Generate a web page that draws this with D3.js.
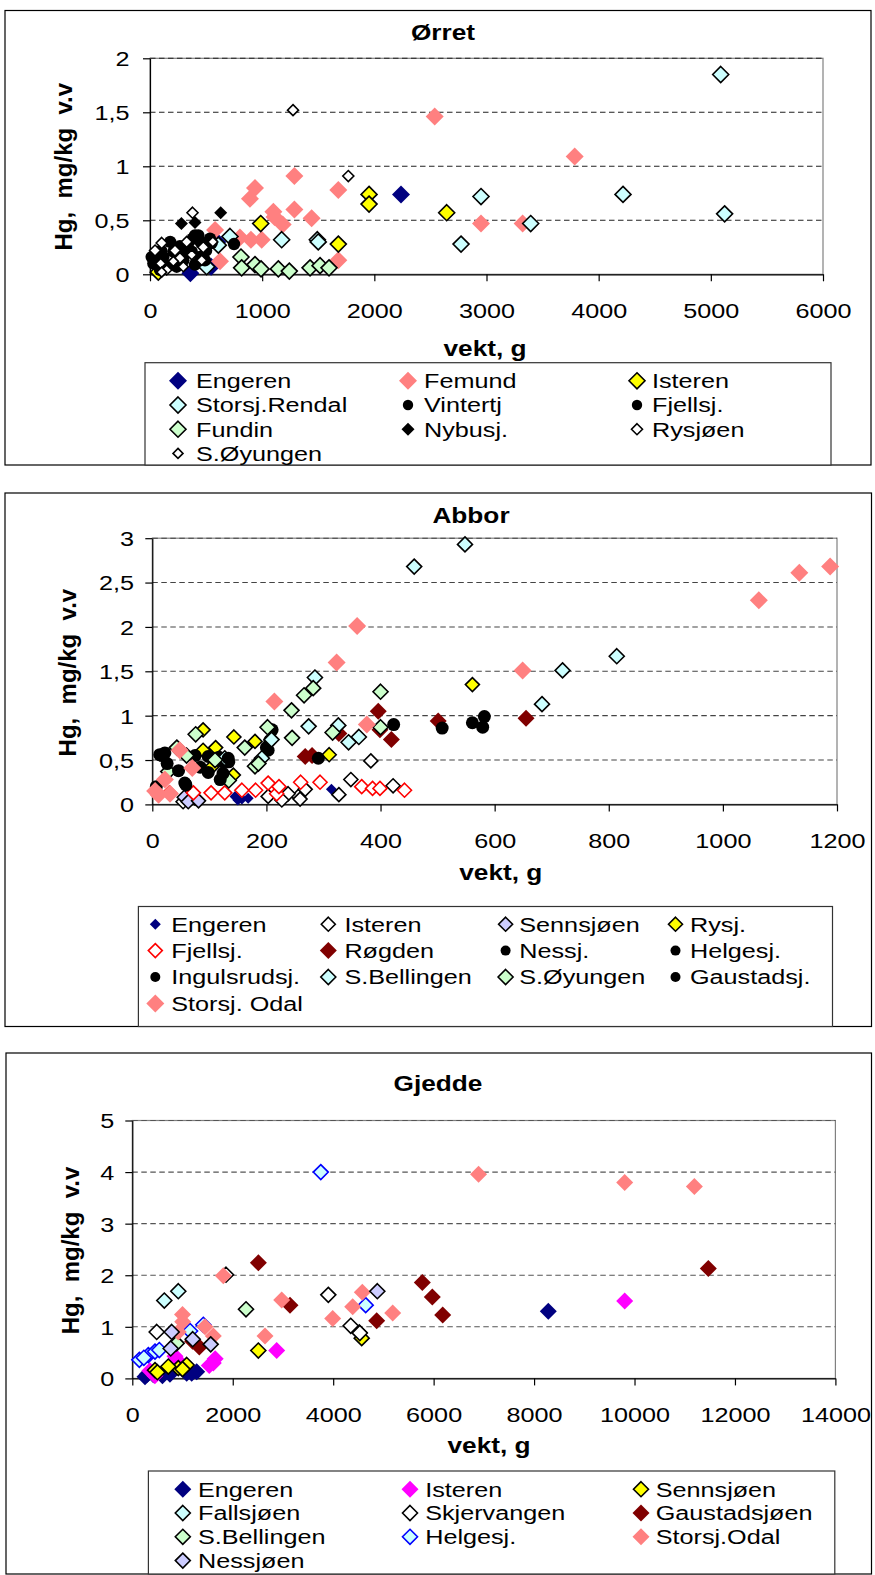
<!DOCTYPE html>
<html><head><meta charset="utf-8">
<script src="https://cdn.jsdelivr.net/npm/d3@7"></script>
<style>
body{margin:0;background:#fff}
text{font-family:"Liberation Sans",Arial,sans-serif;fill:#000}
</style>
</head><body><svg id="c" width="875" height="1575"></svg>
<script>
// ---------- Ørret ----------
const orretXTicks = [0,1000,2000,3000,4000,5000,6000];
const orretYTicks = [0,0.5,1,1.5,2];
const orretNames = ["Engeren","Femund","Isteren","Storsj.Rendal","Vintertj","Fjellsj.","Fundin","Nybusj.","Rysjøen","S.Øyungen"];
const orretEngeren = [[360,0.01],[545,0.07],[600,0.30],[2238,0.74]];
const orretFemund = [[580,0.41],[624,0.12],[802,0.34],[891,0.70],[936,0.80],[900,0.32],[996,0.32],[1100,0.58],[1110,0.53],[1183,0.46],[1287,0.60],[1287,0.91],[1441,0.52],[1679,0.78],[1679,0.13],[2538,1.46],[2951,0.47],[3322,0.47],[3786,1.09]];
const orretIsteren = [[74,0.02],[987,0.47],[1679,0.28],[1953,0.74],[1953,0.65],[2645,0.57]];
const orretStorsjRendal = [[505,0.07],[609,0.27],[713,0.35],[1174,0.32],[1492,0.32],[1500,0.30],[2773,0.28],[2951,0.72],[3394,0.47],[4217,0.74],[5088,1.85],[5123,0.56]];
const orretVintertj = [[15,0.16],[60,0.13],[119,0.16],[208,0.21],[342,0.29],[401,0.36],[446,0.16],[535,0.33],[749,0.28],[238,0.07],[180,0.30],[320,0.20],[450,0.30]];
const orretFjellsj = [[30,0.10],[149,0.08],[267,0.26],[297,0.13],[372,0.21],[431,0.36],[401,0.09],[550,0.29],[490,0.13],[89,0.04],[500,0.22],[100,0.22],[380,0.33]];
const orretFundin = [[811,0.16],[817,0.06],[936,0.09],[990,0.05],[1144,0.05],[1242,0.03],[1427,0.06],[1516,0.08],[1596,0.06]];
const orretNybusj = [[280,0.47],[401,0.48],[630,0.57]];
const orretRysjoen = [[1275,1.52],[1768,0.91],[379,0.57],[45,0.22],[104,0.29],[223,0.22],[327,0.30],[475,0.25],[267,0.15]];
const orretSOyungen = [[372,0.18],[461,0.13],[208,0.12],[95,0.10],[297,0.07],[149,0.04],[104,0.02],[560,0.30]];

// ---------- Abbor ----------
const abborXTicks = [0,200,400,600,800,1000,1200];
const abborYTicks = [0,0.5,1,1.5,2,2.5,3];
const abborNames = ["Engeren","Isteren","Sennsjøen","Rysj.","Fjellsj.","Røgden","Nessj.","Helgesj.","Ingulsrudsj.","S.Bellingen","S.Øyungen","Gaustadsj.","Storsj. Odal"];
const abborEngeren = [[145,0.09],[157,0.06],[168,0.07],[150,0.05],[314,0.17]];
const abborIsteren = [[383,0.49],[348,0.28],[327,0.11],[422,0.21],[256,0.09],[238,0.12],[268,0.17],[203,0.09],[227,0.05],[259,0.06],[75,0.07],[54,0.03]];
const abborSennsjoen = [[56,0.08],[63,0.03],[81,0.04]];
const abborRysj = [[89,0.84],[143,0.76],[180,0.71],[111,0.64],[89,0.61],[310,0.56],[561,1.35],[142,0.33],[104,0.42]];
const abborFjellsj = [[30,0.13],[72,0.13],[103,0.13],[127,0.13],[157,0.16],[181,0.16],[203,0.24],[218,0.12],[222,0.20],[260,0.25],[294,0.25],[367,0.20],[386,0.18],[399,0.18],[442,0.16]];
const abborRogden = [[396,1.05],[399,0.84],[419,0.73],[327,0.80],[268,0.54],[280,0.55],[501,0.94],[655,0.97]];
const abborNessj = [[508,0.86],[561,0.92],[582,0.99],[579,0.87],[423,0.90]];
const abborHelgesj = [[210,0.84],[203,0.61],[206,0.72],[200,0.64],[291,0.52]];
const abborIngulsrudsj = [[13,0.56],[22,0.58],[17,0.55],[75,0.55],[98,0.54],[117,0.53],[124,0.48],[134,0.48]];
const abborSBellingen = [[548,2.93],[459,2.68],[814,1.67],[719,1.51],[683,1.13],[285,1.43],[274,0.88],[326,0.89],[362,0.76],[344,0.70],[209,0.73],[192,0.52],[127,0.52]];
const abborSOyungen = [[282,1.31],[266,1.23],[400,1.27],[244,1.06],[245,0.75],[316,0.81],[400,0.87],[202,0.87],[162,0.64],[180,0.43],[186,0.46],[76,0.79],[43,0.64],[28,0.37],[134,0.27],[110,0.50],[60,0.55]];
const abborGaustadsj = [[84,0.42],[124,0.35],[57,0.24],[26,0.46],[46,0.38],[98,0.36],[119,0.28],[7,0.20],[59,0.22],[133,0.52]];
const abborStorsjOdal = [[1188,2.68],[1134,2.61],[1063,2.30],[649,1.51],[359,2.01],[323,1.60],[214,1.16],[376,0.90],[48,0.61],[70,0.41],[22,0.28],[11,0.11],[31,0.12],[5,0.15]];

// ---------- Gjedde ----------
const gjeddeXTicks = [0,2000,4000,6000,8000,10000,12000,14000];
const gjeddeYTicks = [0,1,2,3,4,5];
const gjeddeNames = ["Engeren","Isteren","Sennsjøen","Fallsjøen","Skjervangen","Gaustadsjøen","S.Bellingen","Helgesj.","Storsj.Odal","Nessjøen"];
const gjeddeEngeren = [[8283,1.30],[253,0.03],[418,0.07],[1083,0.10],[1183,0.10],[1282,0.13],[600,0.05],[750,0.08],[300,0.08]];
const gjeddeIsteren = [[9804,1.50],[2875,0.54],[1613,0.30],[1532,0.25],[1650,0.38],[850,0.43],[900,0.35],[450,0.05],[350,0.15]];
const gjeddeSennsjoen = [[2509,0.54],[4521,0.89],[4568,0.78],[452,0.16],[916,0.20],[1083,0.26],[717,0.23],[500,0.12],[1000,0.18]];
const gjeddeFallsjoen = [[637,1.51],[916,1.69]];
const gjeddeSkjervangen = [[3903,1.62],[4349,1.02],[486,0.90],[1866,2.01],[4530,0.88]];
const gjeddeGaustadsjoen = [[11470,2.13],[2510,2.24],[5775,1.86],[5974,1.58],[6180,1.23],[4866,1.12],[3140,1.42],[1334,0.61],[1200,0.72]];
const gjeddeSBellingen = [[2264,1.34],[884,0.68]];
const gjeddeHelgesj = [[3753,4.00],[4647,1.42],[1414,1.04],[140,0.36],[319,0.45],[452,0.52],[538,0.55],[230,0.40],[1150,0.92]];
const gjeddeStorsjOdal = [[6895,3.96],[9804,3.80],[11192,3.72],[1812,1.99],[2975,1.52],[4388,1.39],[4580,1.67],[3990,1.16],[5185,1.27],[2642,0.82],[1003,1.10],[916,0.90],[1448,1.00],[1613,0.82],[1000,1.24]];
const gjeddeNessjoen = [[4879,1.69],[784,0.90],[1203,0.76],[1561,0.66],[765,0.58]];

// ---------- styles (separate from data) ----------
const NAVY="#000080", SALMON="#FF8080", YEL="#FFFF00", CYAN="#CCFFFF", GREEN="#CCFFCC", LAV="#CCCCFF", DRED="#800000", MAG="#FF00FF";
const D=(r,fill,stroke)=>({shape:"d",r,fill,stroke});
const C=(r)=>({shape:"c",r,fill:"#000",stroke:null});
const orretStyles=[D(9,NAVY),D(9,SALMON),D(8,YEL,"#000"),D(8,CYAN,"#000"),C(6.2),C(6.2),D(8,GREEN,"#000"),D(6.5,"#000"),D(5.5,"#fff","#000"),D(5,"#fff","#000")];
const abborStyles=[D(5.5,NAVY),D(7,"#fff","#000"),D(7,LAV,"#000"),D(7,YEL,"#000"),D(7,"#fff","#FF0000"),D(8.5,DRED),C(6.5),C(6.5),C(6.5),D(7.5,CYAN,"#000"),D(7.5,GREEN,"#000"),C(6.5),D(9,SALMON)];
const gjeddeStyles=[D(8.5,NAVY),D(8.5,MAG),D(7.5,YEL,"#000"),D(7.5,CYAN,"#000"),D(7.5,"#fff","#000"),D(8.5,DRED),D(7.5,GREEN,"#000"),D(7.5,CYAN,"#0000FF"),D(8.5,SALMON),D(7.5,LAV,"#000")];

const panels=[
 {title:"Ørret",names:orretNames,styles:orretStyles,
  data:[orretEngeren,orretFemund,orretIsteren,orretStorsjRendal,orretVintertj,orretFjellsj,orretFundin,orretNybusj,orretRysjoen,orretSOyungen],
  xTicks:orretXTicks,yTicks:orretYTicks,box:[5,10.5,871,465],plot:[150,58.3,823,274.3],
  titlePos:[443,32],xTitle:[485,355.5],yTitle:[72.3,166.7],yLabGap:20.5,grid:"#222",
  legend:{box:[145,362.7,831,465],mx:[178,408,637],tx:[196,424,652],y0:380.8,dy:24.2,ncol:3,cr:5.2}},
 {title:"Abbor",names:abborNames,styles:abborStyles,
  data:[abborEngeren,abborIsteren,abborSennsjoen,abborRysj,abborFjellsj,abborRogden,abborNessj,abborHelgesj,abborIngulsrudsj,abborSBellingen,abborSOyungen,abborGaustadsj,abborStorsjOdal],
  xTicks:abborXTicks,yTicks:abborYTicks,box:[5,493,871.5,1026.5],plot:[152.3,538.2,837,804.4],
  titlePos:[471,515],xTitle:[500.8,880],yTitle:[76,672.6],yLabGap:18.3,grid:"#444",
  legend:{box:[138.4,906.5,832.5,1026.5],mx:[155.3,328.3,505.6,675.5],tx:[171.3,344.4,519.3,690],y0:924.2,dy:26.4,ncol:4,cr:5}},
 {title:"Gjedde",names:gjeddeNames,styles:gjeddeStyles,
  data:[gjeddeEngeren,gjeddeIsteren,gjeddeSennsjoen,gjeddeFallsjoen,gjeddeSkjervangen,gjeddeGaustadsjoen,gjeddeSBellingen,gjeddeHelgesj,gjeddeStorsjOdal,gjeddeNessjoen],
  xTicks:gjeddeXTicks,yTicks:gjeddeYTicks,box:[6,1053,871.5,1574],plot:[132.3,1120.5,835.4,1378.4],
  titlePos:[438,1083.5],xTitle:[489,1452.5],yTitle:[79,1250.5],yLabGap:18,grid:"#555",
  legend:{box:[148.4,1471,834.8,1574],mx:[182.8,410,641],tx:[198,425.2,655.7],y0:1489.2,dy:23.8,ncol:3,cr:5}}
];

const SX=1.2, SXB=1.22;
const svg=d3.select("#c");
svg.append("rect").attr("width",875).attr("height",1575).attr("fill","#fff");
const fmt=d=>String(d).replace(".",",");

function txt(g,x,y,s,o){
  return g.append("text")
    .attr("transform",`translate(${x},${y})${o.rot?` rotate(${o.rot})`:""} scale(${o.sx||1},1)`)
    .attr("text-anchor",o.anchor||"start")
    .attr("dy",o.dy===undefined?"0.35em":o.dy)
    .style("font-size",o.size+"px")
    .style("font-weight",o.bold?"bold":"normal")
    .style("white-space","pre")
    .text(s);
}
function marker(g,x,y,st,rOverride){
  const r=rOverride||st.r;
  let m;
  if(st.shape==="c"){ m=g.append("circle").attr("cx",x).attr("cy",y).attr("r",r); }
  else { m=g.append("path").attr("d",`M${x},${y-r}L${x+r},${y}L${x},${y+r}L${x-r},${y}Z`); }
  m.attr("fill",st.fill);
  if(st.stroke) m.attr("stroke",st.stroke).attr("stroke-width",1.6).attr("stroke-linejoin","miter");
  return m;
}

panels.forEach(p=>{
  const g=svg.append("g");
  const [bx0,by0,bx1,by1]=p.box;
  g.append("rect").attr("x",bx0).attr("y",by0).attr("width",bx1-bx0).attr("height",by1-by0)
    .attr("fill","#fff").attr("stroke","#000").attr("stroke-width",1.2);
  const [px0,py0,px1,py1]=p.plot;
  const x=d3.scaleLinear().domain([p.xTicks[0],p.xTicks[p.xTicks.length-1]]).range([px0,px1]);
  const y=d3.scaleLinear().domain([p.yTicks[0],p.yTicks[p.yTicks.length-1]]).range([py1,py0]);
  g.append("rect").attr("x",px0).attr("y",py0).attr("width",px1-px0).attr("height",py1-py0)
    .attr("fill","#fff").attr("stroke","#808080").attr("stroke-width",1.2);
  g.selectAll(null).data(p.yTicks.slice(1)).enter().append("line")
    .attr("x1",px0).attr("x2",px1).attr("y1",d=>y(d)).attr("y2",d=>y(d))
    .attr("stroke",p.grid).attr("stroke-width",1.1).attr("stroke-dasharray","5.5,3.5");
  const ax=g.append("g").attr("transform",`translate(0,${py1})`)
    .call(d3.axisBottom(x).tickValues(p.xTicks).tickSize(7).tickSizeOuter(0).tickFormat(d=>String(d)));
  ax.selectAll("text").attr("y",36.7).attr("dy","0.35em").attr("transform",`scale(${SX},1)`)
    .style("font-size","21px").attr("font-family",null).attr("fill","#000");
  const ay=g.append("g").attr("transform",`translate(${px0},0)`)
    .call(d3.axisLeft(y).tickValues(p.yTicks).tickSize(7).tickSizeOuter(0).tickFormat(fmt));
  ay.selectAll("text").attr("x",-p.yLabGap/SX).attr("dy","0.35em").attr("transform",`scale(${SX},1)`)
    .style("font-size","21px").attr("font-family",null).attr("fill","#000");
  [ax,ay].forEach(a=>{a.selectAll("path,line").attr("stroke","#000").attr("stroke-width",1.2);});
  const sg=g.append("g");
  p.data.forEach((arr,i)=>{
    const st=p.styles[i];
    arr.forEach(d=>marker(sg,x(d[0]),y(d[1]),st));
  });
  txt(g,p.titlePos[0],p.titlePos[1],p.title,{size:21.5,bold:true,anchor:"middle",sx:SXB});
  txt(g,p.xTitle[0],p.xTitle[1],"vekt, g",{size:21.5,bold:true,anchor:"middle",sx:SXB,dy:0});
  txt(g,p.yTitle[0],p.yTitle[1],"Hg,  mg/kg  v.v",{size:24,bold:true,anchor:"middle",rot:-90,dy:0});
  const L=p.legend;
  const [lx0,ly0,lx1,ly1]=L.box;
  g.append("rect").attr("x",lx0).attr("y",ly0).attr("width",lx1-lx0).attr("height",ly1-ly0)
    .attr("fill","#fff").attr("stroke","#333").attr("stroke-width",1.2);
  p.names.forEach((nm,i)=>{
    const c=i%L.ncol, r=Math.floor(i/L.ncol);
    const yy=L.y0+r*L.dy;
    const st=p.styles[i];
    marker(g,L.mx[c],yy,st,st.shape==="c"?L.cr:null);
    txt(g,L.tx[c],yy,nm,{size:21,sx:SX});
  });
});
</script></body></html>
